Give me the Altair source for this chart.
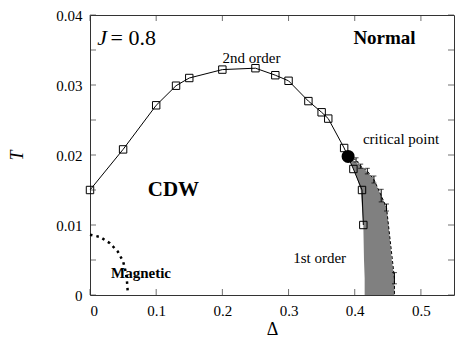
import altair as alt
import pandas as pd

# second-order line (open squares)
sq_delta = [0.0, 0.05, 0.10, 0.13, 0.15, 0.20, 0.25, 0.28, 0.30, 0.33, 0.35, 0.36, 0.384, 0.398, 0.411, 0.413]
sq_T = [0.0150, 0.0208, 0.0271, 0.0299, 0.0310, 0.0322, 0.0324, 0.0314, 0.0306, 0.0277, 0.0261, 0.0252, 0.0210, 0.0180, 0.0150, 0.0100]

# first-order boundary with error bars
fo_delta = [0.402, 0.409, 0.419, 0.429, 0.440, 0.448, 0.460]
fo_T = [0.0193, 0.0184, 0.0177, 0.0165, 0.0142, 0.0125, 0.0024]
fo_err = [0.0003, 0.0003, 0.0004, 0.0005, 0.0009, 0.0005, 0.0008]
dash_delta = [0.390, 0.402, 0.409, 0.419, 0.429, 0.440, 0.448, 0.460, 0.460]
dash_T = [0.0198, 0.0193, 0.0184, 0.0177, 0.0165, 0.0142, 0.0125, 0.0024, 0.0]

# grey coexistence region
shade_T = [0.0198, 0.0185, 0.0180, 0.0165, 0.0150, 0.0125, 0.0100, 0.0050, 0.0024, 0.0]
shade_left = [0.390, 0.396, 0.398, 0.404, 0.409, 0.411, 0.413, 0.414, 0.415, 0.415]
shade_right = [0.391, 0.408, 0.414, 0.429, 0.436, 0.448, 0.451, 0.456, 0.460, 0.460]

# critical point
cp_delta = [0.390]
cp_T = [0.0198]

# magnetic boundary (dotted)
mag_delta = [0.0, 0.015, 0.030, 0.042, 0.050, 0.054, 0.056, 0.057]
mag_T = [0.0086, 0.0083, 0.0074, 0.0062, 0.0048, 0.0033, 0.0018, 0.0005]

x_ticks = [0, 0.1, 0.2, 0.3, 0.4, 0.5]
y_ticks = [0, 0.005, 0.01, 0.015, 0.02, 0.025, 0.03, 0.035, 0.04]

W, H = 364, 280
FONT = "Liberation Serif"

xs = alt.Scale(domain=[0, 0.55], nice=False, zero=False)
ys = alt.Scale(domain=[0, 0.04], nice=False, zero=False)

x_axis = alt.Axis(values=x_ticks, format="~g", labelFont=FONT, labelFontSize=15,
                  titleFont=FONT, titleFontSize=18, titlePadding=2, labelPadding=8)
y_axis = alt.Axis(values=y_ticks, format="~g", labelFont=FONT, labelFontSize=15,
                  titleFont=FONT, titleFontSize=18, titleFontStyle="italic",
                  titlePadding=29, labelPadding=8)

X = alt.X("d:Q", scale=xs, title="Δ", axis=x_axis)
Y = alt.Y("T:Q", scale=ys, title="T", axis=y_axis)

df_sq = pd.DataFrame({"d": sq_delta, "T": sq_T})
df_fo = pd.DataFrame({"d": fo_delta, "T": fo_T,
                      "lo": [t - e for t, e in zip(fo_T, fo_err)],
                      "hi": [t + e for t, e in zip(fo_T, fo_err)]})
df_dash = pd.DataFrame({"d": dash_delta, "T": dash_T, "o": list(range(len(dash_T)))})
df_shade = pd.DataFrame({"T": shade_T, "left": shade_left, "right": shade_right})
df_cp = pd.DataFrame({"d": cp_delta, "T": cp_T})
df_mag = pd.DataFrame({"d": mag_delta, "T": mag_T, "o": list(range(len(mag_T)))})

shade = alt.Chart(df_shade).mark_area(orient="horizontal", color="#808080", opacity=1).encode(
    y=alt.Y("T:Q", scale=ys, title="T", axis=y_axis),
    x=alt.X("left:Q", scale=xs, title="Δ", axis=x_axis),
    x2="right:Q",
)

line = alt.Chart(df_sq).mark_line(color="black", strokeWidth=1).encode(x=X, y=Y, order=alt.Order("d:Q"))
squares = alt.Chart(df_sq).mark_point(shape="square", filled=False, color="black", size=55, strokeWidth=1, opacity=1).encode(x=X, y=Y)

dash = alt.Chart(df_dash).mark_line(color="black", strokeWidth=1, strokeDash=[3, 2]).encode(
    x=X, y=Y, order="o:Q")
err = alt.Chart(df_fo).mark_rule(color="black", strokeWidth=1).encode(
    x=X, y=alt.Y("lo:Q", scale=ys), y2="hi:Q")
cap_lo = alt.Chart(df_fo).mark_tick(orient="horizontal", color="black", size=5, thickness=1).encode(
    x=X, y=alt.Y("lo:Q", scale=ys))
cap_hi = alt.Chart(df_fo).mark_tick(orient="horizontal", color="black", size=5, thickness=1).encode(
    x=X, y=alt.Y("hi:Q", scale=ys))

cp = alt.Chart(df_cp).mark_circle(color="black", size=170, opacity=1).encode(x=X, y=Y)

mag = alt.Chart(df_mag).mark_line(color="black", strokeWidth=2.5, strokeDash=[2.5, 4]).encode(
    x=X, y=Y, order="o:Q")

# inner ticks on all four sides
df_xt = pd.DataFrame({"d": x_ticks})
df_yt = pd.DataFrame({"T": y_ticks})
tk = dict(color="#333", size=6, thickness=1)
xt_bot = alt.Chart(df_xt).mark_tick(orient="vertical", **tk).encode(x=X, y=alt.value(H - 3))
xt_top = alt.Chart(df_xt).mark_tick(orient="vertical", **tk).encode(x=X, y=alt.value(3))
yt_left = alt.Chart(df_yt).mark_tick(orient="horizontal", **tk).encode(y=Y, x=alt.value(3))
yt_right = alt.Chart(df_yt).mark_tick(orient="horizontal", **tk).encode(y=Y, x=alt.value(W - 3))

def label(text, d, t, size, weight="normal", style="normal", align="center"):
    df = pd.DataFrame({"d": [d], "T": [t], "s": [text]})
    return alt.Chart(df).mark_text(font=FONT, fontSize=size, fontWeight=weight,
                                   fontStyle=style, align=align, baseline="middle",
                                   color="black").encode(x=X, y=Y, text="s:N")

texts = [
    label("J", 0.011, 0.0367, 22, style="italic", align="left"),
    label("= 0.8", 0.031, 0.0367, 22, align="left"),
    label("Normal", 0.445, 0.0367, 19, weight="bold"),
    label("2nd order", 0.244, 0.0338, 15),
    label("critical point", 0.47, 0.0223, 15),
    label("CDW", 0.126, 0.0150, 21, weight="bold"),
    label("1st order", 0.347, 0.0053, 15),
    label("Magnetic", 0.077, 0.0032, 15, weight="bold"),
]

chart = alt.layer(
    shade, line, dash, err, cap_lo, cap_hi, squares, cp, mag,
    xt_bot, xt_top, yt_left, yt_right, *texts
).properties(
    width=W, height=H,
    autosize=alt.AutoSizeParams(type="none"),
    padding={"left": 82, "top": 7, "right": 1, "bottom": 42},
).configure_view(
    stroke="#333", strokeWidth=1
).configure_axis(
    grid=False, domain=False, ticks=False,
    labelColor="black", titleColor="black", titleFontWeight="normal",
)

chart.save("out.html", embed_options={"renderer": "svg", "actions": False})
